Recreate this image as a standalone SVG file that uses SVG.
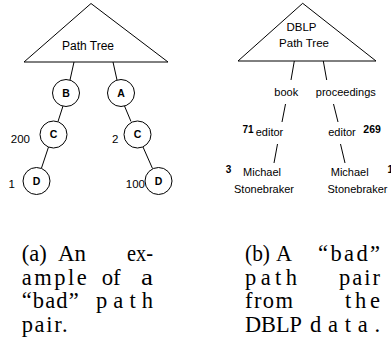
<svg xmlns="http://www.w3.org/2000/svg" width="391" height="343" viewBox="0 0 391 343">
  <style>
    .shape { fill: none; stroke: #000; stroke-width: 1; }
    .circ { fill: #fff; stroke: #000; stroke-width: 1; }
    .lbl { font-family: "Liberation Sans", Arial, sans-serif; font-size: 11px; fill: #000; }
    .big { font-size: 11.5px; }
    .node { font-family: "Liberation Sans", Arial, sans-serif; font-size: 10.5px; font-weight: bold; text-anchor: middle; fill: #000; }
    .num { font-family: "Liberation Sans", Arial, sans-serif; font-size: 10px; font-weight: bold; fill: #000; }
    .mid { text-anchor: middle; }
    .end { text-anchor: end; }
    .cap { font-family: "Liberation Serif", "Times New Roman", serif; font-size: 22.5px; fill: #000; }
  </style>

  <rect width="391" height="343" fill="#fff"/>

  <!-- left panel: generic path tree -->
  <g id="pathtree-a">
    <polygon class="shape" points="91,3.5 24,62 168,62"/>
    <text class="lbl mid" x="88" y="49.5" style="font-size:12px">Path Tree</text>
  </g>

  <g id="connectors-a" class="shape">
    <line x1="74" y1="62" x2="70" y2="80"/>
    <line x1="113" y1="62" x2="117" y2="80"/>
    <line x1="63" y1="106" x2="58" y2="121.5"/>
    <line x1="124.5" y1="106" x2="131" y2="121.5"/>
    <line x1="48.5" y1="147" x2="41.5" y2="168"/>
    <line x1="143" y1="147" x2="152.5" y2="168.5"/>
  </g>

  <g id="node-b">
    <circle class="circ" cx="66" cy="93" r="13.5"/>
    <text class="node" x="66" y="96.8">B</text>
  </g>
  <g id="node-a">
    <circle class="circ" cx="121" cy="93" r="13.5"/>
    <text class="node" x="121" y="96.8">A</text>
  </g>
  <g id="node-c-left">
    <circle class="circ" cx="53.5" cy="134.5" r="13.5"/>
    <text class="node" x="53.5" y="138.3">C</text>
    <text class="lbl end big" x="30" y="142.5">200</text>
  </g>
  <g id="node-c-right">
    <circle class="circ" cx="137.5" cy="134.5" r="13.5"/>
    <text class="node" x="137.5" y="138.3">C</text>
    <text class="lbl big" x="112" y="142.5">2</text>
  </g>
  <g id="node-d-left">
    <circle class="circ" cx="36.5" cy="181" r="13.5"/>
    <text class="node" x="36.5" y="184.8">D</text>
    <text class="lbl big" x="8.5" y="188">1</text>
  </g>
  <g id="node-d-right">
    <circle class="circ" cx="158.5" cy="181" r="13.5"/>
    <text class="node" x="158.5" y="184.8">D</text>
    <text class="lbl big end" x="145" y="188">100</text>
  </g>

  <!-- right panel: DBLP path tree -->
  <g id="pathtree-b">
    <polygon class="shape" points="302.7,3.3 238,61 376,61"/>
    <text class="lbl mid big" x="301.5" y="30.7">DBLP</text>
    <text class="lbl mid big" x="304" y="46.7">Path Tree</text>
  </g>

  <g id="connectors-b" class="shape">
    <line x1="294.3" y1="61" x2="291" y2="80"/>
    <line x1="323.3" y1="61" x2="326.7" y2="80"/>
    <line x1="285.5" y1="104" x2="282" y2="122"/>
    <line x1="333.5" y1="104" x2="338" y2="122"/>
    <line x1="277.5" y1="144" x2="274" y2="163"/>
    <line x1="340.5" y1="144" x2="345" y2="163"/>
  </g>

  <g id="node-book">
    <text class="lbl mid" x="286.3" y="96">book</text>
  </g>
  <g id="node-proceedings">
    <text class="lbl mid" x="345.8" y="96">proceedings</text>
  </g>
  <g id="node-editor-left">
    <text class="lbl mid" x="269.5" y="136">editor</text>
    <text class="num end" x="253.5" y="133.3">71</text>
  </g>
  <g id="node-editor-right">
    <text class="lbl mid" x="342" y="136">editor</text>
    <text class="num" x="363.3" y="133.3" style="font-size:10.5px">269</text>
  </g>
  <g id="node-author-left">
    <text class="lbl mid" x="262" y="176">Michael</text>
    <text class="lbl mid" x="264" y="192.7">Stonebraker</text>
    <text class="num" x="225.7" y="172.7">3</text>
  </g>
  <g id="node-author-right">
    <text class="lbl mid" x="349.7" y="176">Michael</text>
    <text class="lbl mid" x="357.5" y="192.7">Stonebraker</text>
    <text class="num" x="387.5" y="172.7">1</text>
  </g>

  <!-- sub-captions, justified word by word -->
  <g id="caption-a" class="cap">
    <text x="21.7" y="261" textLength="25" lengthAdjust="spacingAndGlyphs">(a)</text>
    <text x="58" y="261" textLength="28" lengthAdjust="spacingAndGlyphs">An</text>
    <text x="127" y="261" textLength="26" lengthAdjust="spacingAndGlyphs">ex-</text>
    <text x="21.7" y="284.5" textLength="65" lengthAdjust="spacing">ample</text>
    <text x="101.7" y="284.5" textLength="19" lengthAdjust="spacingAndGlyphs">of</text>
    <text x="141" y="284.5" textLength="12" lengthAdjust="spacingAndGlyphs">a</text>
    <text x="21.7" y="308" textLength="57" lengthAdjust="spacing">“bad”</text>
    <text x="96" y="308" textLength="57" lengthAdjust="spacing">path</text>
    <text x="21.7" y="331.5" textLength="46" lengthAdjust="spacing">pair.</text>
  </g>
  <g id="caption-b" class="cap">
    <text x="245" y="261" textLength="25" lengthAdjust="spacingAndGlyphs">(b)</text>
    <text x="276" y="261" textLength="16" lengthAdjust="spacingAndGlyphs">A</text>
    <text x="318" y="261" textLength="62" lengthAdjust="spacing">“bad”</text>
    <text x="245" y="284.5" textLength="52" lengthAdjust="spacing">path</text>
    <text x="339" y="284.5" textLength="41" lengthAdjust="spacing">pair</text>
    <text x="245" y="308" textLength="48" lengthAdjust="spacing">from</text>
    <text x="345" y="308" textLength="35" lengthAdjust="spacing">the</text>
    <text x="245" y="331.5" textLength="57" lengthAdjust="spacingAndGlyphs">DBLP</text>
    <text x="310" y="331.5" textLength="70" lengthAdjust="spacing">data.</text>
  </g>
</svg>
